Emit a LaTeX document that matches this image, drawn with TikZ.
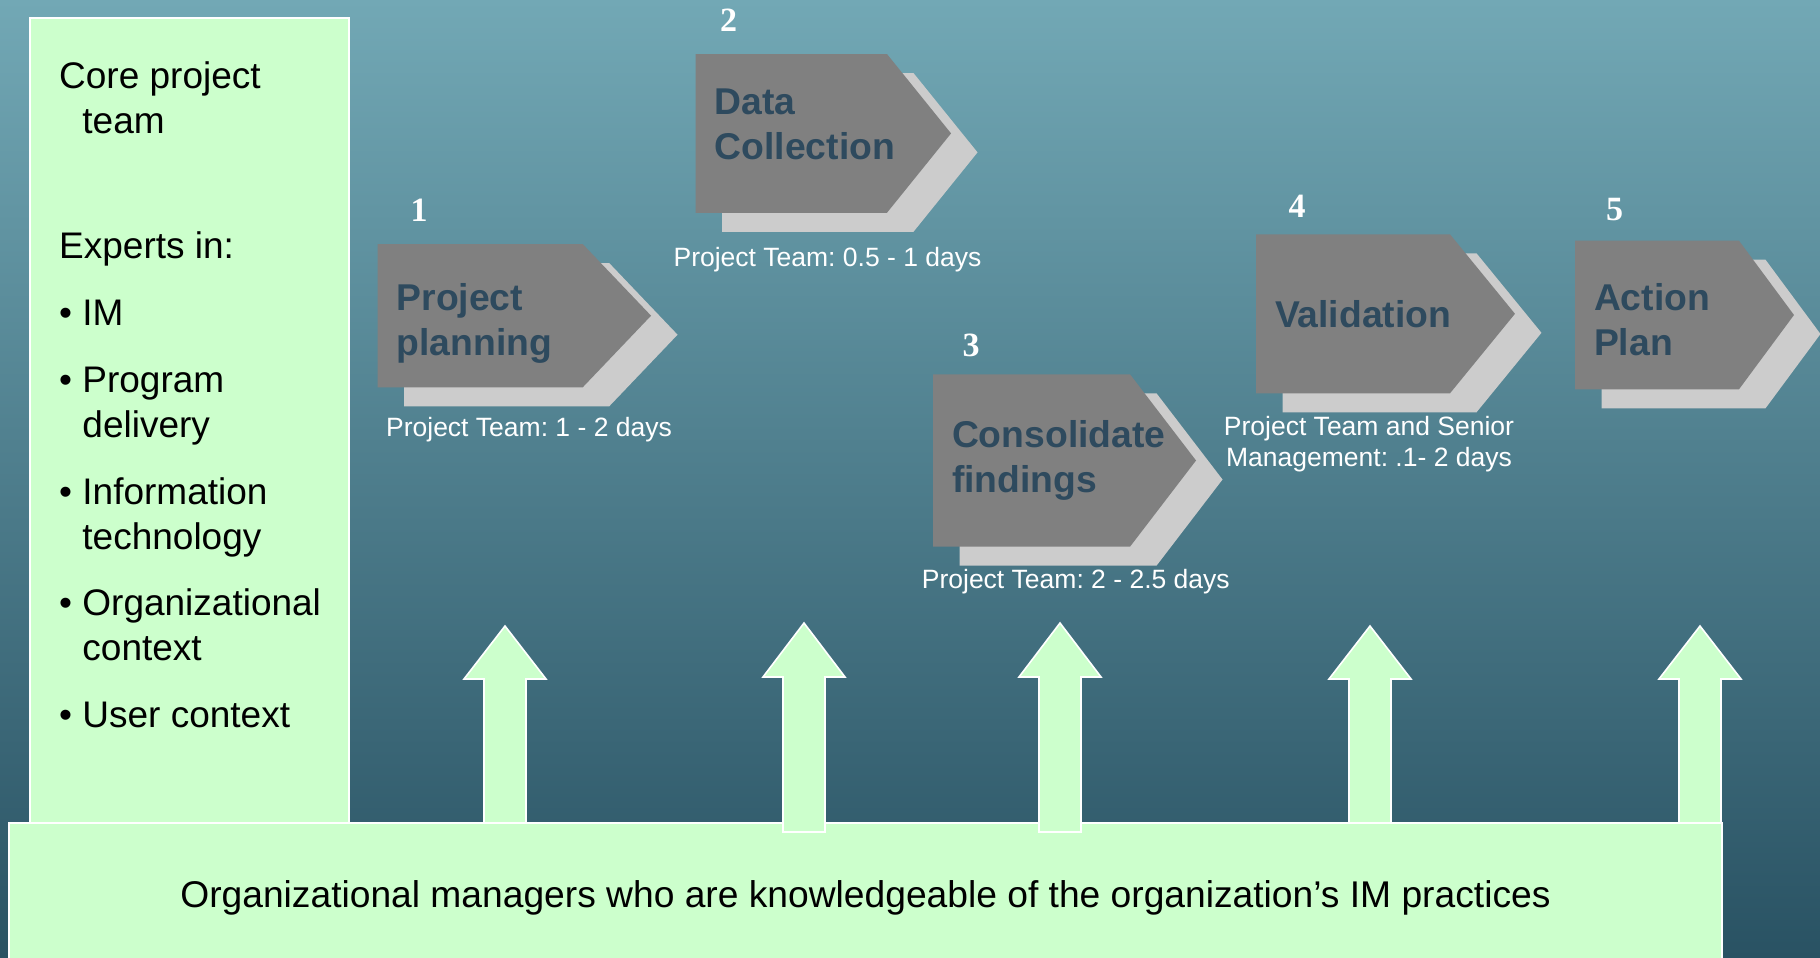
\documentclass[tikz,border=0pt]{standalone}
\usepackage{fontspec}
\setmainfont{Liberation Sans}
\newfontfamily\numfont{Liberation Serif}
\usetikzlibrary{shapes.symbols, shadows, positioning}
\frenchspacing

\definecolor{mint}{HTML}{CCFFCC}
\definecolor{stepgray}{HTML}{808080}
\definecolor{shadegray}{HTML}{CCCCCC}
\definecolor{stepink}{RGB}{46,74,94}
\definecolor{seatop}{RGB}{114,168,181}
\definecolor{seabottom}{RGB}{41,82,99}

\begin{document}
\begin{tikzpicture}[x=1pt, y=-1pt,
    panel/.style={rectangle, draw=white, line width=1.5pt, fill=mint, inner sep=0pt, outer sep=0pt},
    stepbox/.style={signal, signal to=east, fill=stepgray, text=stepink, text width=#1, align=left,
        inner xsep=19pt, inner ysep=0pt, outer sep=0pt, anchor=west,
        font=\fontsize{37.3}{45}\selectfont\bfseries,
        drop shadow={shadow xshift=26.5pt, shadow yshift=-19pt, fill=shadegray, opacity=1}},
    stepno/.style={text=white, inner sep=0pt, font=\numfont\fontsize{34}{34}\selectfont\bfseries},
    days/.style={text=white, inner sep=0pt, align=center, font=\fontsize{26.5}{31}\selectfont},
    lift/.style={draw=white, fill=mint, line width=1.6pt}]

    \shade [top color=seatop, bottom color=seabottom] (0,0) rectangle (1820,958);
    \useasboundingbox (0,0) rectangle (1820,958);

    \node [panel, anchor=north west, minimum width=319pt, minimum height=812pt] (core) at (30,18) {};
    \node [anchor=north west, inner sep=0pt, align=left, font=\fontsize{37}{45}\selectfont] (corelist) at (59,61.5)
        {Core project\\\phantom{\textbullet\ }team\\[79.6pt]
         Experts in:\\[22.7pt]
         \textbullet\ IM\\[21.7pt]
         \textbullet\ Program\\\phantom{\textbullet\ }delivery\\[21.7pt]
         \textbullet\ Information\\\phantom{\textbullet\ }technology\\[21.7pt]
         \textbullet\ Organizational\\\phantom{\textbullet\ }context\\[21.7pt]
         \textbullet\ User context};

    \draw [lift] (505,626) -- ++(41,53) -- ++(-20,0) -- ++(0,144) -- ++(-42,0) -- ++(0,-144) -- ++(-20,0) -- cycle;
    \draw [lift] (1370,626) -- ++(41,53) -- ++(-20,0) -- ++(0,144) -- ++(-42,0) -- ++(0,-144) -- ++(-20,0) -- cycle;
    \draw [lift] (1700,626) -- ++(41,53) -- ++(-20,0) -- ++(0,144) -- ++(-42,0) -- ++(0,-144) -- ++(-20,0) -- cycle;

    \node [panel, minimum width=1713pt, minimum height=149pt, font=\fontsize{37.2}{45}\selectfont] (managers) at (865.5,897.5)
        {Organizational managers who are knowledgeable of the organization’s IM practices};

    \draw [lift] (804,623) -- ++(41,54) -- ++(-20,0) -- ++(0,155) -- ++(-42,0) -- ++(0,-155) -- ++(-20,0) -- cycle;
    \draw [lift] (1060,623) -- ++(41,54) -- ++(-20,0) -- ++(0,155) -- ++(-42,0) -- ++(0,-155) -- ++(-20,0) -- cycle;

    \node [stepbox=167pt, minimum height=143.3pt, signal pointer angle=92.7, text height=43pt] (plan) at (377.7,315.7) {Project\\planning};
    \node [stepbox=153.3pt, minimum height=158.7pt, signal pointer angle=102.2, text depth=63pt] (collect) at (695.7,133.4) {Data\\Collection};
    \node [stepbox=159pt, minimum height=172.4pt, signal pointer angle=105.1] (consolidate) at (933,460.5) {Consolidate\\findings};
    \node [stepbox=156pt, minimum height=159pt, signal pointer angle=101.5] (validate) at (1256,313.8) {Validation};
    \node [stepbox=126pt, minimum height=148.6pt, signal pointer angle=107, text height=37pt] (action) at (1575,315) {Action\\Plan};

    \node [stepno] (n1) at (419,210.5) {1};
    \node [stepno] (n2) at (728.7,20) {2};
    \node [stepno] (n3) at (971,345) {3};
    \node [stepno] (n4) at (1297,206) {4};
    \node [stepno] (n5) at (1614.5,209.5) {5};

    \node [days, anchor=base] (d1) at (529,436.7) {Project Team: 1 - 2 days};
    \node [days, anchor=base] (d2) at (827.5,266.7) {Project Team: 0.5 - 1 days};
    \node [days, anchor=base] (d3) at (1075.8,588.3) {Project Team: 2 - 2.5 days};
    \node [days] (d4) at (1369,444) {Project Team and Senior\\Management: .1- 2 days};

\end{tikzpicture}
\end{document}
